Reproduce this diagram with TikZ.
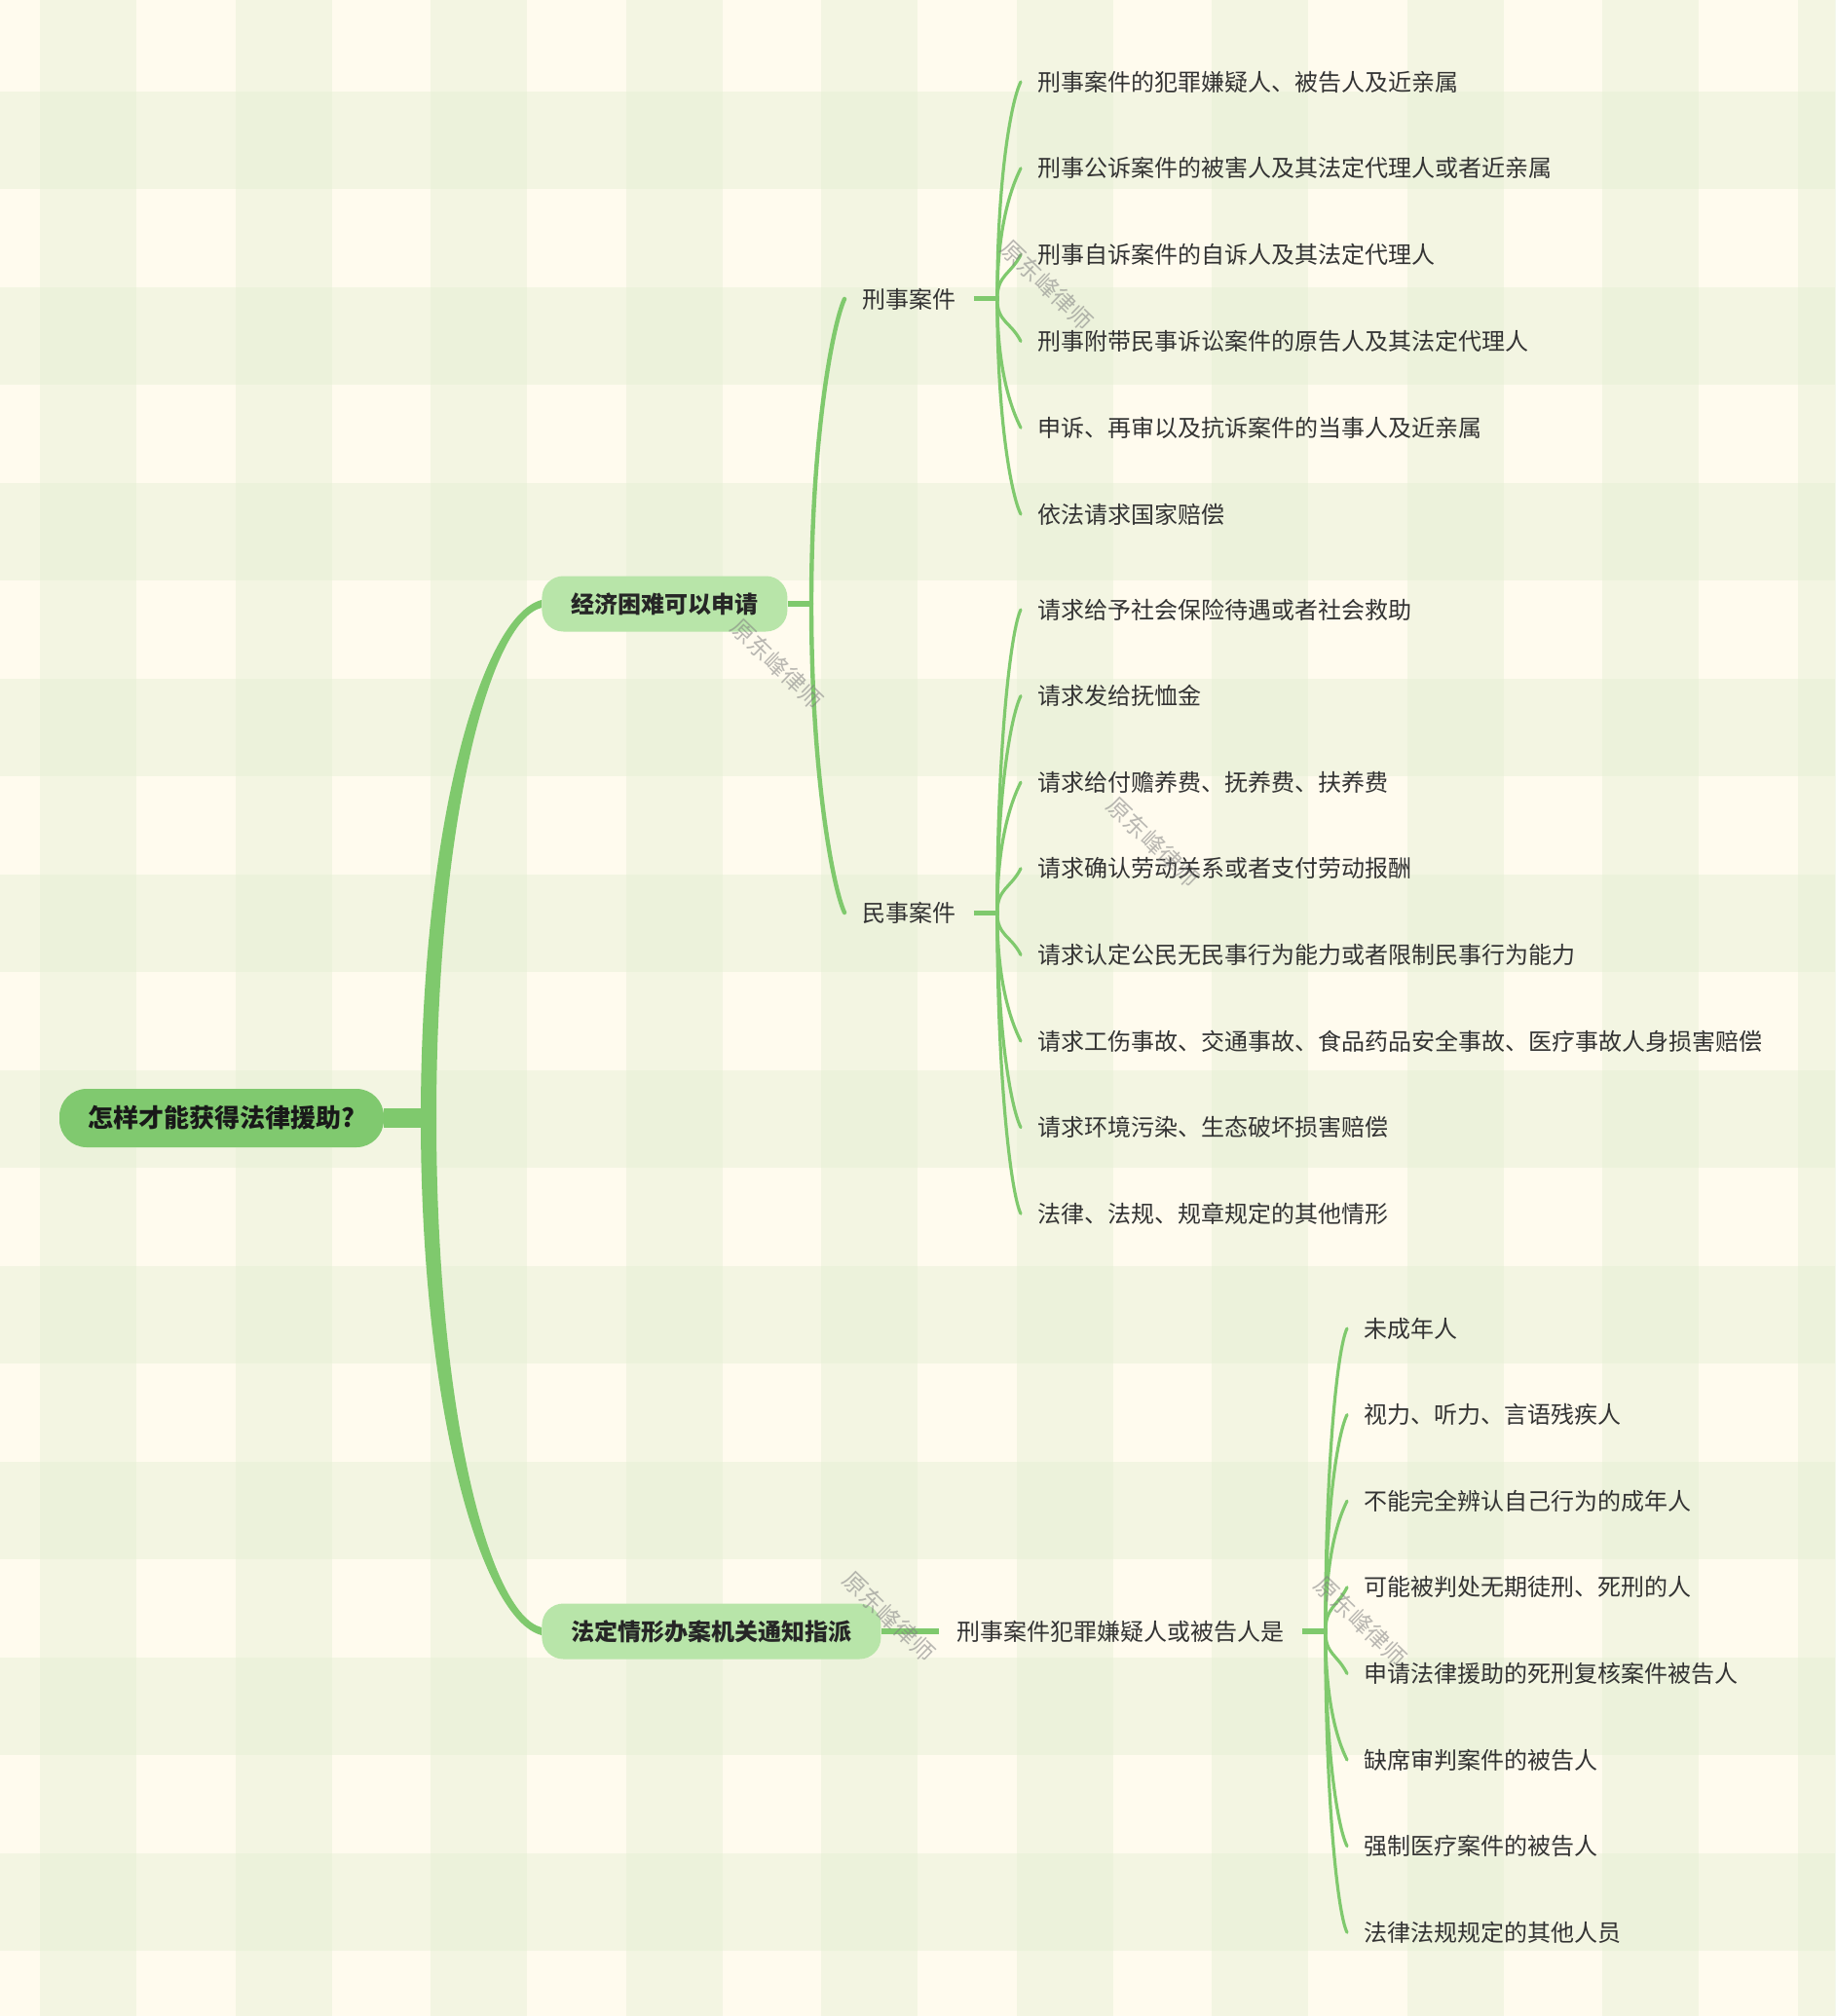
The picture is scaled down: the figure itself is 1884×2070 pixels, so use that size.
\documentclass[tikz,border=0pt]{standalone}
\usepackage{fontspec}
\usepackage{xcolor}
\usepackage{tikz}
\usetikzlibrary{calc, positioning}

\newfontfamily\cjk{Noto Sans CJK SC}

\definecolor{paper}{HTML}{FFFBEE}
\definecolor{check}{HTML}{E4EED2}
\definecolor{rootgreen}{HTML}{80C96F}
\definecolor{boxgreen}{HTML}{B8E5A9}
\definecolor{linegreen}{HTML}{7FC96D}
\definecolor{ink}{HTML}{333333}

\tikzset{
    rootbox/.style={fill=rootgreen, rounded corners=14pt, minimum width=166.5pt,
        minimum height=30pt, text=black!90,
        font=\cjk\bfseries\fontsize{13}{15}\selectfont},
    topicbox/.style={fill=boxgreen, rounded corners=11pt, minimum height=28.5pt,
        inner xsep=15pt, text=black!85,
        font=\cjk\bfseries\fontsize{12}{14}\selectfont},
    subtopic/.style={anchor=west, inner xsep=9pt, inner ysep=2pt, text=ink,
        font=\cjk\fontsize{12}{14}\selectfont},
    leaf/.style={anchor=west, inner xsep=8.5pt, inner ysep=2pt, text=ink,
        font=\cjk\fontsize{12}{14}\selectfont},
    stem/.style={draw=linegreen, line width=2.2pt},
    twig/.style={draw=linegreen, line width=1.6pt},
    trunk/.style={fill=linegreen},
    stamp/.style={text=gray, opacity=0.55, rotate=-44,
        font=\cjk\fontsize{12}{14}\selectfont},
}

\begin{document}
\begin{tikzpicture}[x=0.5pt, y=-0.5pt, line join=round, line cap=round]

        % =========================
        % NỀN KẺ Ô
        % =========================
        \useasboundingbox (0,0) rectangle (1884,2070);
        \fill[paper] (0,0) rectangle (1884,2070);
        \foreach \x in {41,241.5,...,1884}
            \fill[check, fill opacity=0.42] (\x,0) rectangle ++(99,2070);
        \foreach \y in {94,295,...,2070}
            \fill[check, fill opacity=0.42] (0,\y) rectangle ++(1884,100);

        % =========================
        % CÁC NÚT CHÍNH
        % =========================
        \node[rootbox] (root) at (227.5,1148) {怎样才能获得法律援助?};

        \node[topicbox, anchor=west] (econ)  at (556,620)  {经济困难可以申请};
        \node[topicbox, anchor=west] (legal) at (556,1675) {法定情形办案机关通知指派};

        \node[subtopic] (crim)  at (867,307)  {刑事案件};
        \node[subtopic] (civil) at (867,937)  {民事案件};
        \node[subtopic] (susp)  at (964,1675) {刑事案件犯罪嫌疑人或被告人是};

        % =========================
        % ĐIỂM RẼ NHÁNH
        % =========================
        \coordinate (rj) at (440,1148);
        \coordinate (aj) at (833,620);
        \coordinate (kj) at ([xshift=12pt]crim.east);
        \coordinate (mj) at ([xshift=12pt]civil.east);
        \coordinate (bj) at ([xshift=12pt]susp.east);

        % =========================
        % CÁC LÁ
        % =========================
        \node[leaf] (xs1) at (1048,84)    {刑事案件的犯罪嫌疑人、被告人及近亲属};
        \node[leaf] (xs2) at (1048,172.8) {刑事公诉案件的被害人及其法定代理人或者近亲属};
        \node[leaf] (xs3) at (1048,261.6) {刑事自诉案件的自诉人及其法定代理人};
        \node[leaf] (xs4) at (1048,350.4) {刑事附带民事诉讼案件的原告人及其法定代理人};
        \node[leaf] (xs5) at (1048,439.2) {申诉、再审以及抗诉案件的当事人及近亲属};
        \node[leaf] (xs6) at (1048,528)   {依法请求国家赔偿};

        \node[leaf] (ms1) at (1048,626)    {请求给予社会保险待遇或者社会救助};
        \node[leaf] (ms2) at (1048,714.6)  {请求发给抚恤金};
        \node[leaf] (ms3) at (1048,803.2)  {请求给付赡养费、抚养费、扶养费};
        \node[leaf] (ms4) at (1048,891.8)  {请求确认劳动关系或者支付劳动报酬};
        \node[leaf] (ms5) at (1048,980.4)  {请求认定公民无民事行为能力或者限制民事行为能力};
        \node[leaf] (ms6) at (1048,1069)   {请求工伤事故、交通事故、食品药品安全事故、医疗事故人身损害赔偿};
        \node[leaf] (ms7) at (1048,1157.6) {请求环境污染、生态破坏损害赔偿};
        \node[leaf] (ms8) at (1048,1246.2) {法律、法规、规章规定的其他情形};

        \node[leaf] (fd1) at (1383,1364)   {未成年人};
        \node[leaf] (fd2) at (1383,1452.6) {视力、听力、言语残疾人};
        \node[leaf] (fd3) at (1383,1541.2) {不能完全辨认自己行为的成年人};
        \node[leaf] (fd4) at (1383,1629.8) {可能被判处无期徒刑、死刑的人};
        \node[leaf] (fd5) at (1383,1718.4) {申请法律援助的死刑复核案件被告人};
        \node[leaf] (fd6) at (1383,1807)   {缺席审判案件的被告人};
        \node[leaf] (fd7) at (1383,1895.6) {强制医疗案件的被告人};
        \node[leaf] (fd8) at (1383,1984.2) {法律法规规定的其他人员};

        % =========================
        % THÂN CHÍNH
        % =========================
        \draw[linegreen, line width=10pt, line cap=butt]
            (root.east) -- ($(rj)+(8,0)$);

        \fill[trunk]
            ($(rj)+(-8,0)$) .. controls ($(rj)+(-8,-300)$) and ($(econ.west)+(-62,12)$)
            .. ($(econ.west)+(0,-4)$) -- ($(econ.west)+(0,4)$)
            .. controls ($(econ.west)+(-54,18)$) and ($(rj)+(8,-300)$) .. ($(rj)+(8,0)$) -- cycle;

        \fill[trunk]
            ($(rj)+(-8,0)$) .. controls ($(rj)+(-8,300)$) and ($(legal.west)+(-62,-12)$)
            .. ($(legal.west)+(0,4)$) -- ($(legal.west)+(0,-4)$)
            .. controls ($(legal.west)+(-54,-18)$) and ($(rj)+(8,300)$) .. ($(rj)+(8,0)$) -- cycle;

        % =========================
        % NHÁNH CẤP HAI
        % =========================
        \draw[stem, line width=3pt, line cap=butt]
            (econ.east) -- ($(aj)+(2,0)$);

        \draw[stem]
            (aj) .. controls ($(aj)!0.55!(aj|-crim.west)$) and ($(crim.west)+(-12,26)$) .. (crim.west);

        \draw[stem]
            (aj) .. controls ($(aj)!0.55!(aj|-civil.west)$) and ($(civil.west)+(-12,-26)$) .. (civil.west);

        \draw[stem, line width=3pt, line cap=butt]
            (legal.east) -- (susp.west);

        \draw[stem, line width=2.5pt, line cap=butt]
            (crim.east) -- ($(kj)+(2,0)$);

        \draw[stem, line width=2.5pt, line cap=butt]
            (civil.east) -- ($(mj)+(2,0)$);

        \draw[stem, line width=2.8pt, line cap=butt]
            (susp.east) -- ($(bj)+(2,0)$);

        % =========================
        % NHÁNH LÁ - HÌNH SỰ
        % =========================
        \draw[twig] (kj) .. controls ($(kj)!0.55!(kj|-xs1.west)$) and ($(xs1.west)+(-10,20)$) .. (xs1.west);
        \draw[twig] (kj) .. controls ($(kj)!0.55!(kj|-xs2.west)$) and ($(xs2.west)+(-10,20)$) .. (xs2.west);
        \draw[twig] (kj) .. controls ($(kj)!0.55!(kj|-xs3.west)$) and ($(xs3.west)+(-10,20)$) .. (xs3.west);
        \draw[twig] (kj) .. controls ($(kj)!0.55!(kj|-xs4.west)$) and ($(xs4.west)+(-10,-20)$) .. (xs4.west);
        \draw[twig] (kj) .. controls ($(kj)!0.55!(kj|-xs5.west)$) and ($(xs5.west)+(-10,-20)$) .. (xs5.west);
        \draw[twig] (kj) .. controls ($(kj)!0.55!(kj|-xs6.west)$) and ($(xs6.west)+(-10,-20)$) .. (xs6.west);

        % =========================
        % NHÁNH LÁ - DÂN SỰ
        % =========================
        \draw[twig] (mj) .. controls ($(mj)!0.55!(mj|-ms1.west)$) and ($(ms1.west)+(-10,20)$) .. (ms1.west);
        \draw[twig] (mj) .. controls ($(mj)!0.55!(mj|-ms2.west)$) and ($(ms2.west)+(-10,20)$) .. (ms2.west);
        \draw[twig] (mj) .. controls ($(mj)!0.55!(mj|-ms3.west)$) and ($(ms3.west)+(-10,20)$) .. (ms3.west);
        \draw[twig] (mj) .. controls ($(mj)!0.55!(mj|-ms4.west)$) and ($(ms4.west)+(-10,20)$) .. (ms4.west);
        \draw[twig] (mj) .. controls ($(mj)!0.55!(mj|-ms5.west)$) and ($(ms5.west)+(-10,-20)$) .. (ms5.west);
        \draw[twig] (mj) .. controls ($(mj)!0.55!(mj|-ms6.west)$) and ($(ms6.west)+(-10,-20)$) .. (ms6.west);
        \draw[twig] (mj) .. controls ($(mj)!0.55!(mj|-ms7.west)$) and ($(ms7.west)+(-10,-20)$) .. (ms7.west);
        \draw[twig] (mj) .. controls ($(mj)!0.55!(mj|-ms8.west)$) and ($(ms8.west)+(-10,-20)$) .. (ms8.west);

        % =========================
        % NHÁNH LÁ - ĐỊNH SẴN
        % =========================
        \draw[twig] (bj) .. controls ($(bj)!0.55!(bj|-fd1.west)$) and ($(fd1.west)+(-10,20)$) .. (fd1.west);
        \draw[twig] (bj) .. controls ($(bj)!0.55!(bj|-fd2.west)$) and ($(fd2.west)+(-10,20)$) .. (fd2.west);
        \draw[twig] (bj) .. controls ($(bj)!0.55!(bj|-fd3.west)$) and ($(fd3.west)+(-10,20)$) .. (fd3.west);
        \draw[twig] (bj) .. controls ($(bj)!0.55!(bj|-fd4.west)$) and ($(fd4.west)+(-10,20)$) .. (fd4.west);
        \draw[twig] (bj) .. controls ($(bj)!0.55!(bj|-fd5.west)$) and ($(fd5.west)+(-10,-20)$) .. (fd5.west);
        \draw[twig] (bj) .. controls ($(bj)!0.55!(bj|-fd6.west)$) and ($(fd6.west)+(-10,-20)$) .. (fd6.west);
        \draw[twig] (bj) .. controls ($(bj)!0.55!(bj|-fd7.west)$) and ($(fd7.west)+(-10,-20)$) .. (fd7.west);
        \draw[twig] (bj) .. controls ($(bj)!0.55!(bj|-fd8.west)$) and ($(fd8.west)+(-10,-20)$) .. (fd8.west);

        % =========================
        % THỦY ẤN
        % =========================
        \node[stamp] (wm1) at (1075,293)  {原东峰律师};
        \node[stamp] (wm2) at (798,682)   {原东峰律师};
        \node[stamp] (wm3) at (1184,865)  {原东峰律师};
        \node[stamp] (wm4) at (913,1660)  {原东峰律师};
        \node[stamp] (wm5) at (1397,1665) {原东峰律师};

    \end{tikzpicture}
\end{document}
